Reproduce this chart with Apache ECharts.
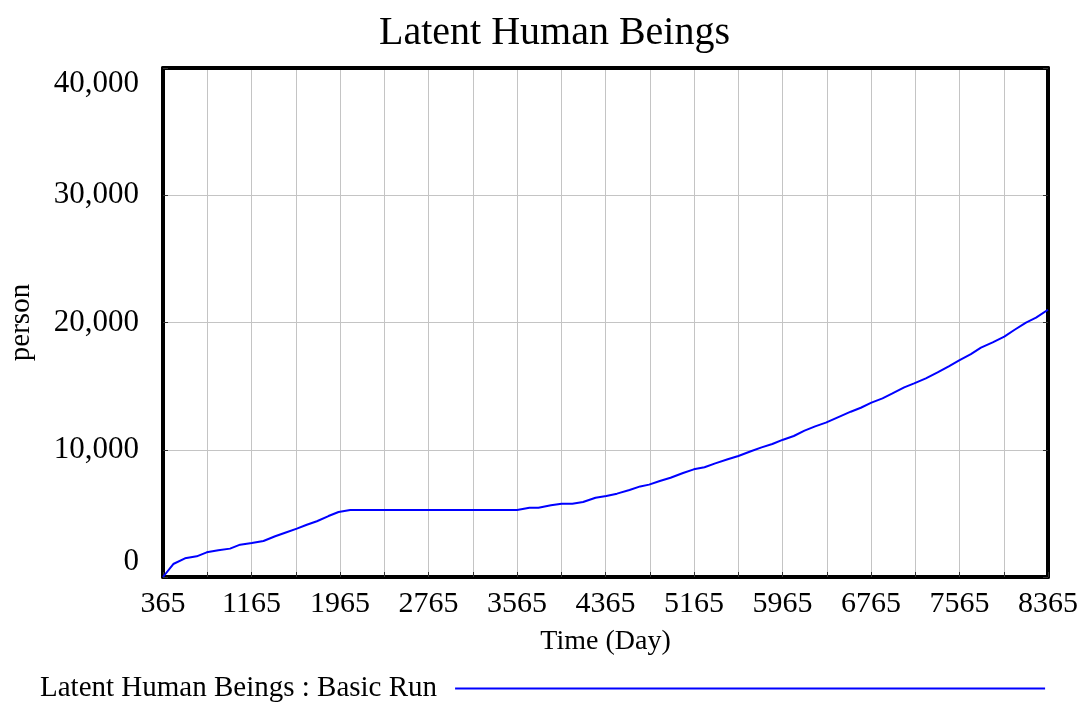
<!DOCTYPE html>
<html>
	<head>
		<meta charset="utf-8" />
		<title>Latent Human Beings</title>
		<script src="https://cdn.jsdelivr.net/npm/echarts@6/dist/echarts.min.js"></script>
		<style>
			html, body { margin: 0; padding: 0; background: #fff; }
			#main { width: 1085px; height: 707px; }
		</style>
	</head>
	<body>
		<div id="main"></div>
	<script>
	// time (day) and value (person)
	var times = [365, 458, 564, 670, 760, 865, 971, 1062, 1168, 1273, 1379, 1469, 1575, 1665, 1756, 1861, 1952, 2057,
		2565, 3065, 3566, 3678, 3759, 3872, 3968, 4065, 4162, 4275, 4372, 4469, 4582, 4679, 4759, 4856, 4953,
		5066, 5163, 5260, 5357, 5470, 5566, 5679, 5776, 5873, 5970, 6067, 6164, 6260, 6357, 6470, 6582, 6673,
		6769, 6869, 6959, 7065, 7155, 7261, 7367, 7472, 7562, 7668, 7759, 7865, 7970, 8060, 8166, 8257, 8365];
	var latent = [0, 1020, 1470, 1625, 1940, 2100, 2230, 2540, 2670, 2830, 3200, 3480, 3800, 4110, 4380, 4790, 5110, 5265,
		5265, 5265, 5265, 5450, 5450, 5630, 5760, 5760, 5890, 6230, 6370, 6550, 6840, 7120, 7260, 7540, 7800,
		8170, 8460, 8620, 8930, 9250, 9510, 9880, 10190, 10450, 10790, 11080, 11500, 11840, 12130, 12570, 12990, 13300,
		13700, 14040, 14430, 14900, 15220, 15610, 16080, 16580, 17030, 17520, 18020, 18440, 18890, 19410, 19990, 20380, 21000];
	var startTime = 365;
	var yTicks = [0, 10000, 20000, 30000, 40000];

	var font = "'Liberation Serif', 'Times New Roman', serif";

	// axis runs from 0 so that the 400-day ticks start at the first day
	var seriesData = times.map(function (t, i) { return [t - startTime, latent[i]]; });

	var frame = { show: true, onZero: false, lineStyle: { color: '#000', width: 4 } };
	var tick = { show: true, inside: true, length: 5, lineStyle: { color: '#333' } };

	var chart = echarts.init(document.getElementById('main'));
	var option = {
		animation: false,
		backgroundColor: '#fff',
		title: {
			text: 'Latent Human Beings',
			left: 374,
			top: 8,
			textStyle: { fontFamily: font, fontSize: 40, fontWeight: 'normal', color: '#000' }
		},
		grid: {
			left: 163, right: 37, top: 68, bottom: 130,
			outerBoundsMode: 'none',
			containLabel: false
		},
		legend: {
			left: 40,
			top: 674,
			padding: 0,
			align: 'right',
			icon: 'rect',
			itemWidth: 590,
			itemHeight: 2,
			itemGap: 0,
			textStyle: { fontFamily: font, fontSize: 29, color: '#000', padding: [0, 13, 0, 0] },
			data: ['Latent Human Beings : Basic Run']
		},
		xAxis: [{
			type: 'value',
			min: 0,
			max: 8000,
			interval: 400,
			name: 'Time (Day)',
			nameLocation: 'middle',
			nameGap: 51,
			nameTextStyle: { fontFamily: font, fontSize: 28, color: '#000' },
			axisLine: frame,
			axisTick: tick,
			axisLabel: {
				margin: 12,
				fontFamily: font, fontSize: 30, color: '#000',
				formatter: function (v) { return v % 800 === 0 ? String(v + startTime) : ''; }
			},
			splitLine: { show: true, lineStyle: { color: '#c4c4c4', width: 1 } }
		}, {
			type: 'value',
			position: 'top',
			min: 0,
			max: 8000,
			interval: 400,
			axisLine: frame,
			axisTick: { show: false },
			axisLabel: { show: false },
			splitLine: { show: false }
		}],
		yAxis: [{
			type: 'value',
			min: yTicks[0],
			max: yTicks[yTicks.length - 1],
			interval: 10000,
			name: 'person',
			nameLocation: 'middle',
			nameRotate: 90,
			nameGap: 127,
			nameTextStyle: { fontFamily: font, fontSize: 29, color: '#000' },
			axisLine: frame,
			axisTick: tick,
			axisLabel: {
				margin: 24,
				fontFamily: font, fontSize: 31, color: '#000',
				verticalAlignMinLabel: 'bottom',
				verticalAlignMaxLabel: 'top',
				formatter: function (v) { return v.toLocaleString('en-US'); }
			},
			splitLine: { show: true, lineStyle: { color: '#c4c4c4', width: 1 } }
		}, {
			type: 'value',
			position: 'right',
			min: yTicks[0],
			max: yTicks[yTicks.length - 1],
			interval: 10000,
			axisLine: frame,
			axisTick: tick,
			axisLabel: { show: false },
			splitLine: { show: false }
		}],
		series: [{
			name: 'Latent Human Beings : Basic Run',
			type: 'line',
			data: seriesData,
			symbol: 'none',
			showSymbol: false,
			lineStyle: { color: '#0000ff', width: 2 },
			itemStyle: { color: '#0000ff' }
		}]
	};
	chart.setOption(option);
	</script>
	</body>
</html>
